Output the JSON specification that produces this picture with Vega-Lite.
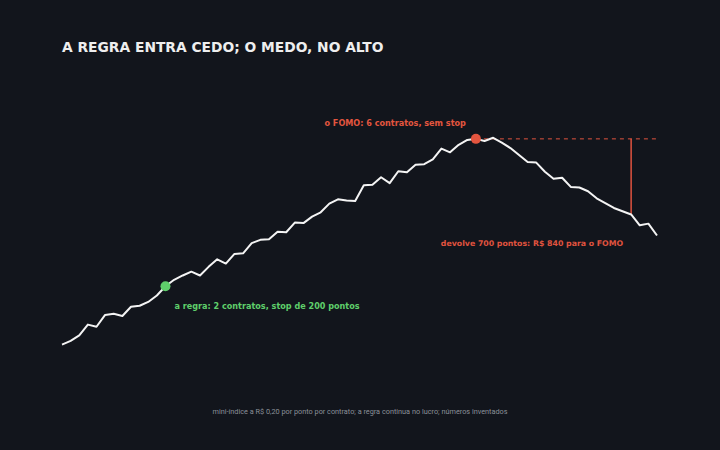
{
  "$schema": "https://vega.github.io/schema/vega-lite/v6.json",
  "autosize": {"type": "none"},
  "width": 595,
  "height": 270,
  "padding": {"left": 62, "top": 107, "right": 63, "bottom": 73},
  "background": "#12151c",
  "title": {
    "text": "A REGRA ENTRA CEDO; O MEDO, NO ALTO",
    "anchor": "start",
    "frame": "group",
    "baseline": "alphabetic",
    "offset": 41,
    "font": "DejaVu Sans",
    "fontSize": 13.8,
    "fontWeight": "bold",
    "color": "#eeeeee"
  },
  "config": {"view": {"stroke": null}},
  "datasets": {
    "serie": [
      {"i": 0, "pts": 125000}, {"i": 1, "pts": 125035}, {"i": 2, "pts": 125085},
      {"i": 3, "pts": 125185}, {"i": 4, "pts": 125165}, {"i": 5, "pts": 125275},
      {"i": 6, "pts": 125285}, {"i": 7, "pts": 125265}, {"i": 8, "pts": 125350},
      {"i": 9, "pts": 125360}, {"i": 10, "pts": 125395}, {"i": 11, "pts": 125455},
      {"i": 12, "pts": 125540}, {"i": 13, "pts": 125600}, {"i": 14, "pts": 125640},
      {"i": 15, "pts": 125675}, {"i": 16, "pts": 125640}, {"i": 17, "pts": 125720},
      {"i": 18, "pts": 125790}, {"i": 19, "pts": 125750}, {"i": 20, "pts": 125840},
      {"i": 21, "pts": 125845}, {"i": 22, "pts": 125940}, {"i": 23, "pts": 125970},
      {"i": 24, "pts": 125975}, {"i": 25, "pts": 126045}, {"i": 26, "pts": 126040},
      {"i": 27, "pts": 126130}, {"i": 28, "pts": 126125}, {"i": 29, "pts": 126185},
      {"i": 30, "pts": 126225}, {"i": 31, "pts": 126305}, {"i": 32, "pts": 126345},
      {"i": 33, "pts": 126335}, {"i": 34, "pts": 126330}, {"i": 35, "pts": 126475},
      {"i": 36, "pts": 126480}, {"i": 37, "pts": 126550}, {"i": 38, "pts": 126495},
      {"i": 39, "pts": 126605}, {"i": 40, "pts": 126595}, {"i": 41, "pts": 126665},
      {"i": 42, "pts": 126670}, {"i": 43, "pts": 126715}, {"i": 44, "pts": 126815},
      {"i": 45, "pts": 126780}, {"i": 46, "pts": 126850}, {"i": 47, "pts": 126895},
      {"i": 48, "pts": 126905}, {"i": 49, "pts": 126885}, {"i": 50, "pts": 126915},
      {"i": 51, "pts": 126870}, {"i": 52, "pts": 126820}, {"i": 53, "pts": 126755},
      {"i": 54, "pts": 126690}, {"i": 55, "pts": 126685}, {"i": 56, "pts": 126600},
      {"i": 57, "pts": 126535}, {"i": 58, "pts": 126545}, {"i": 59, "pts": 126460},
      {"i": 60, "pts": 126455}, {"i": 61, "pts": 126420}, {"i": 62, "pts": 126355},
      {"i": 63, "pts": 126310}, {"i": 64, "pts": 126265}, {"i": 65, "pts": 126235},
      {"i": 66, "pts": 126205}, {"i": 67, "pts": 126105}, {"i": 68, "pts": 126120},
      {"i": 69, "pts": 126010}
    ],
    "entradas": [
      {"i": 12, "pts": 125540, "tipo": "regra", "rotulo": "a regra: 2 contratos, stop de 200 pontos"},
      {"i": 48, "pts": 126905, "tipo": "fomo", "rotulo": "o FOMO: 6 contratos, sem stop"}
    ],
    "devolucao": [
      {"i": 66, "pts": 126905, "pts2": 126205, "rotulo": "devolve 700 pontos: R$ 840 para o FOMO"}
    ],
    "nivel": [
      {"i": 48, "i2": 69, "pts": 126905}
    ]
  },
  "encoding": {
    "x": {
      "field": "i",
      "type": "quantitative",
      "scale": {"domain": [0, 69], "nice": false, "zero": false},
      "axis": {
        "domain": false, "ticks": false, "labels": false, "grid": false,
        "title": "mini-índice a R$ 0,20 por ponto por contrato; a regra continua no lucro; números inventados",
        "titleFont": "Roboto", "titleFontSize": 7.3, "titleFontWeight": "normal",
        "titleColor": "#8b9099", "titlePadding": 30
      }
    },
    "y": {
      "field": "pts",
      "type": "quantitative",
      "scale": {"domain": [124700, 127200], "nice": false, "zero": false},
      "axis": null
    }
  },
  "layer": [
    {
      "data": {"name": "nivel"},
      "mark": {"type": "rule", "color": "#e0533f", "strokeWidth": 1, "strokeDash": [4, 4]},
      "encoding": {"x2": {"field": "i2"}}
    },
    {
      "data": {"name": "devolucao"},
      "mark": {"type": "rule", "color": "#e0533f", "strokeWidth": 1.5},
      "encoding": {"y2": {"field": "pts2"}}
    },
    {
      "data": {"name": "serie"},
      "mark": {"type": "line", "color": "#f4f4f4", "strokeWidth": 2, "strokeJoin": "round"}
    },
    {
      "data": {"name": "entradas"},
      "mark": {"type": "point", "filled": true, "opacity": 1, "size": 100},
      "encoding": {
        "color": {
          "field": "tipo", "type": "nominal",
          "scale": {"domain": ["regra", "fomo"], "range": ["#5fcf6b", "#e4553f"]},
          "legend": null
        }
      }
    },
    {
      "data": {"name": "entradas"},
      "transform": [{"filter": "datum.tipo == 'regra'"}],
      "mark": {"type": "text", "align": "left", "baseline": "alphabetic", "dx": 9, "dy": 23,
               "font": "DejaVu Sans", "fontSize": 8.1, "fontWeight": "bold", "color": "#5fcf6b"},
      "encoding": {"text": {"field": "rotulo"}}
    },
    {
      "data": {"name": "entradas"},
      "transform": [{"filter": "datum.tipo == 'fomo'"}],
      "mark": {"type": "text", "align": "right", "baseline": "alphabetic", "dx": -10, "dy": -13,
               "font": "DejaVu Sans", "fontSize": 8.1, "fontWeight": "bold", "color": "#e4553f"},
      "encoding": {"text": {"field": "rotulo"}}
    },
    {
      "data": {"name": "devolucao"},
      "mark": {"type": "text", "align": "right", "baseline": "alphabetic", "dx": -8, "dy": 32,
               "font": "DejaVu Sans", "fontSize": 7.8, "fontWeight": "bold", "color": "#e0533f"},
      "encoding": {"text": {"field": "rotulo"}, "y": {"field": "pts2"}}
    }
  ]
}
